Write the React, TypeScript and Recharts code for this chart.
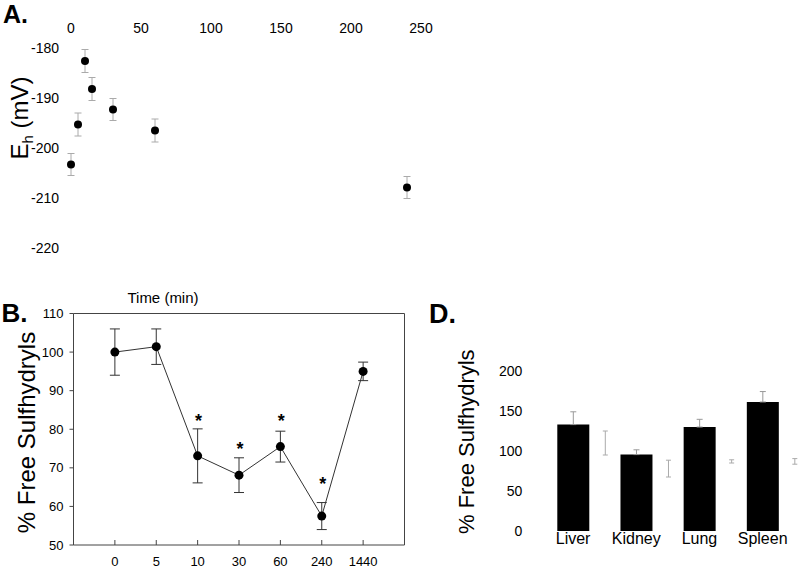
import React from 'react';
import {
  ScatterChart, Scatter, XAxis, YAxis, ErrorBar, ComposedChart, Line,
  BarChart, Bar, ReferenceLine,
} from 'recharts';

// ---------- Panel A ----------
const timeA = [0, 5, 10, 15, 30, 60, 240];
const ehA = [-203.3, -195.3, -182.6, -188.2, -192.3, -196.5, -207.9];
const ehErrA = [2.2, 2.3, 2.3, 2.3, 2.2, 2.3, 2.2];
const xTicksA = [0, 50, 100, 150, 200, 250];
const yTicksA = [-220, -210, -200, -190, -180];

// ---------- Panel B ----------
const timeLabelsB = ['0', '5', '10', '30', '60', '240', '1440'];
const sulfB = [100, 101.4, 73.1, 68.1, 75.5, 57.5, 95];
const sulfErrB = [6, 4.6, 7, 4.5, 4, 3.5, 2.4];
const starLevelB: (number | null)[] = [null, null, 83.2, 75.9, 83.2, 66.8, null];
const yTicksB = [50, 60, 70, 80, 90, 100, 110];

// ---------- Panel D ----------
const organsD = ['Liver', 'Kidney', 'Lung', 'Spleen'];
const treatedD = [133, 95.5, 130, 161.3];
const treatedErrD = [16, 6, 9.6, 13];
const controlD = [110, 78, 87, 87];
const controlErrD = [15, 10.5, 2, 3.5];
const yTicksD = [0, 50, 100, 150, 200];

const FONT = '"Liberation Sans", Arial, Helvetica, sans-serif';

const dataA = timeA.map((t, i) => ({ t, eh: ehA[i], err: ehErrA[i] }));
const dataB = timeLabelsB.map((label, i) => ({
  i, label, v: sulfB[i], e: sulfErrB[i], star: starLevelB[i],
}));
const dataD = organsD.map((name, i) => ({
  name,
  treated: treatedD[i],
  tErr: [0, treatedErrD[i]],
  control: controlD[i],
  cErr: controlErrD[i],
}));

const StarDot = (props: any) => {
  const { cx, cy, value, index } = props;
  if (value == null || cy == null || Number.isNaN(cy)) return <g key={`s${index}`} />;
  return (
    <text key={`s${index}`} x={cx + 1} y={cy + 10} textAnchor="middle" fontSize={18}
      fontWeight="bold" fontFamily={FONT} fill="#000">*</text>
  );
};

const D_WIDTH = 370;
const D_MARGIN_LEFT = 57.3;
const D_YAXIS_W = 60;
const D_BAND = (D_WIDTH - D_MARGIN_LEFT - D_YAXIS_W) / organsD.length;

const OrganTick = (props: any) => {
  const { x, y, payload } = props;
  return (
    <text x={x - D_BAND / 4} y={y} dy="0.71em" textAnchor="middle" fontSize={16}
      fontFamily={FONT} fill="#000">{payload.value}</text>
  );
};

export default function App() {
  const tickA = { fontSize: 14, fill: '#000', fontFamily: FONT };
  const tickB = { fontSize: 13, fill: '#000', fontFamily: FONT };
  return (
    <div style={{ position: 'absolute', left: 0, top: 0, width: 800, height: 570, overflow: 'hidden', background: '#fff' }}>
      {/* Panel A */}
      <div style={{ position: 'absolute', left: 0, top: 0 }}>
        <ScatterChart width={440} height={262} margin={{ top: 18, right: 19, bottom: 14, left: 21 }}>
          <XAxis type="number" dataKey="t" orientation="top" domain={[0, 250]} ticks={xTicksA}
            axisLine={false} tickLine={false} tickSize={0} tickMargin={15} height={30} tick={tickA} />
          <YAxis type="number" dataKey="eh" domain={[-220, -180]} ticks={yTicksA}
            axisLine={false} tickLine={false} tickSize={0} tickMargin={12} width={50} tick={tickA} />
          <Scatter data={dataA} isAnimationActive={false}
            shape={(p: any) => <circle cx={p.cx} cy={p.cy} r={4} fill="#000" />}>
            <ErrorBar dataKey="err" direction="y" width={3.5} stroke="#aaa" strokeWidth={1} />
          </Scatter>
        </ScatterChart>
      </div>

      {/* Panel B */}
      <div style={{ position: 'absolute', left: 0, top: 280 }}>
        <ComposedChart width={415} height={290} data={dataB}
          margin={{ top: 33.5, right: 10.5, bottom: 0, left: 23.5 }}>
          <XAxis type="number" dataKey="i" domain={[-1, 7]} ticks={[0, 1, 2, 3, 4, 5, 6]}
            tickFormatter={(v: number) => timeLabelsB[v] ?? ''} interval={0}
            stroke="#444" tickSize={-5} tickMargin={17} height={25} tick={tickB} />
          <YAxis type="number" domain={[50, 110]} ticks={yTicksB} interval={0}
            stroke="#444" tickSize={4} tickMargin={6} width={50} tick={tickB} />
          <ReferenceLine y={110} stroke="#444" />
          <ReferenceLine x={7} stroke="#444" />
          <Line dataKey="v" stroke="#333" strokeWidth={1} isAnimationActive={false}
            dot={{ r: 4.5, fill: '#000', stroke: '#000', strokeWidth: 0 }} activeDot={false}>
            <ErrorBar dataKey="e" direction="y" width={5} stroke="#333" strokeWidth={1} />
          </Line>
          <Line dataKey="star" stroke="none" isAnimationActive={false} dot={StarDot}
            activeDot={false} legendType="none" />
        </ComposedChart>
      </div>

      {/* Panel D */}
      <div style={{ position: 'absolute', left: 440, top: 300 }}>
        <BarChart width={D_WIDTH} height={261} data={dataD} barCategoryGap={0} barGap={0}
          margin={{ top: 71, right: 0, bottom: 0, left: D_MARGIN_LEFT }}>
          <XAxis dataKey="name" axisLine={false} tickLine={false} tickSize={0} tickMargin={2}
            height={30} interval={0} tick={OrganTick} />
          <YAxis type="number" domain={[0, 200]} ticks={yTicksD} axisLine={false} tickLine={false}
            tickSize={0} tickMargin={35} width={D_YAXIS_W} tick={tickA} />
          <Bar dataKey="treated" fill="#000" isAnimationActive={false}>
            <ErrorBar dataKey="tErr" direction="y" width={3} stroke="#999" strokeWidth={1} />
          </Bar>
          <Bar dataKey="control" fill="none" isAnimationActive={false}>
            <ErrorBar dataKey="cErr" direction="y" width={2.5} stroke="#aaa" strokeWidth={1} />
          </Bar>
        </BarChart>
      </div>

      {/* Labels */}
      <svg width={800} height={570} style={{ position: 'absolute', left: 0, top: 0, pointerEvents: 'none' }}
        fontFamily={FONT}>
        <text x={3} y={23.3} fontSize={25} fontWeight="bold" fill="#000">A.</text>
        <text x={1.5} y={321.7} fontSize={26} fontWeight="bold" fill="#000">B.</text>
        <text x={429} y={322.7} fontSize={27} fontWeight="bold" fill="#000">D.</text>
        <text transform="translate(28,118) rotate(-90)" textAnchor="middle" fontSize={24} fill="#000">
          E<tspan fontSize={15} dy={5}>h</tspan><tspan dy={-5}> (mV)</tspan>
        </text>
        <text transform="translate(35,432.5) rotate(-90)" textAnchor="middle" fontSize={24} fill="#000">
          % Free Sulfhydryls
        </text>
        <text transform="translate(473.5,441.7) rotate(-90)" textAnchor="middle" fontSize={22} fill="#000">
          % Free Sulfhydryls
        </text>
        <text x={163} y={303.3} textAnchor="middle" fontSize={15} fill="#000">Time (min)</text>
      </svg>
    </div>
  );
}
